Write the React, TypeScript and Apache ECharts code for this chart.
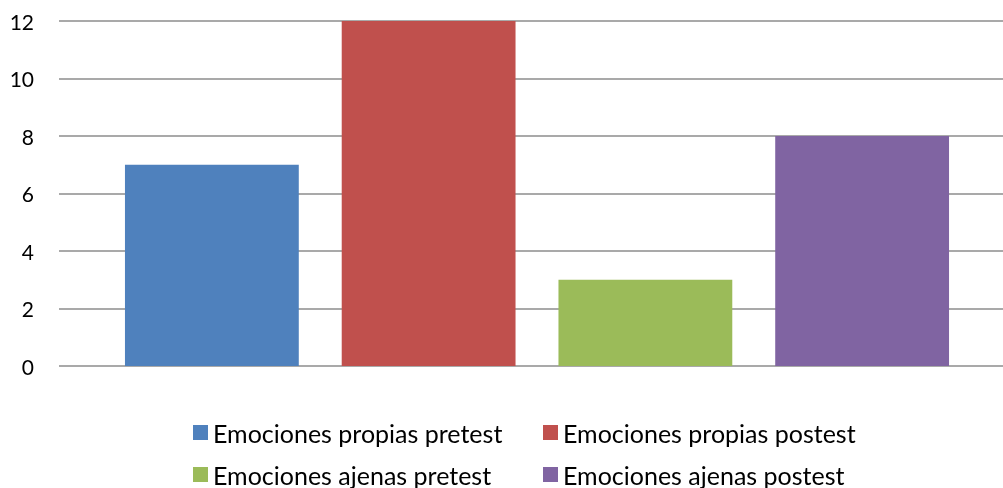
import React, { useEffect, useRef } from "react";
import * as echarts from "echarts";

const categories = ["Emociones"];
const seriesNames = [
  "Emociones propias pretest",
  "Emociones propias postest",
  "Emociones ajenas pretest",
  "Emociones ajenas postest",
];
const seriesValues = [7, 12, 3, 8];
const seriesColors = ["#4F81BD", "#C0504D", "#9BBB59", "#8064A2"];
const yTicks = { min: 0, max: 12, interval: 2 };

const FONT = "Lato, 'Open Sans', sans-serif";

export default function App() {
  const ref = useRef<HTMLDivElement>(null);
  useEffect(() => {
    if (!ref.current) return;
    const chart = echarts.init(ref.current, undefined, { renderer: "svg" });
    const legendPos = [
      { left: 193, top: 420 },
      { left: 543, top: 420 },
      { left: 193, top: 462 },
      { left: 543, top: 462 },
    ];
    chart.setOption({
      animation: false,
      grid: {
        left: 59,
        width: 956,
        top: 21,
        bottom: 122,
        containLabel: false,
        outerBoundsMode: "none",
      },
      legend: seriesNames.map((name, i) => ({
        ...legendPos[i],
        data: [name],
        icon: "rect",
        itemWidth: 15,
        itemHeight: 15,
        padding: 0,
        selectedMode: false,
        textStyle: { fontFamily: FONT, fontSize: 25, color: "#000" },
      })),
      xAxis: {
        type: "category",
        data: categories,
        axisLine: { show: false },
        axisTick: { show: false },
        axisLabel: { show: false },
      },
      yAxis: {
        type: "value",
        min: yTicks.min,
        max: yTicks.max,
        interval: yTicks.interval,
        axisLine: { show: false },
        axisTick: { show: false },
        axisLabel: { fontFamily: FONT, fontSize: 21, color: "#000", margin: 25 },
        splitLine: { lineStyle: { color: "#8c8c8c", width: 1.5 } },
      },
      series: seriesNames.map((name, i) => ({
        name,
        type: "bar",
        data: [seriesValues[i]],
        itemStyle: { color: seriesColors[i] },
        barGap: "24.7%",
        barCategoryGap: "13.8%",
      })),
    });
    return () => chart.dispose();
  }, []);
  return (
    <div
      ref={ref}
      style={{ position: "fixed", left: 0, top: 0, width: 1003, height: 488 }}
    />
  );
}
